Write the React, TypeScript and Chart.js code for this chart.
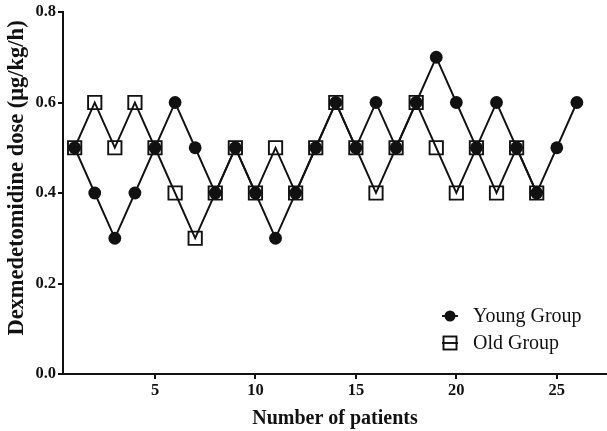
import React, { useEffect, useRef } from "react";
import { Chart, registerables } from "chart.js";

Chart.register(...registerables);

const patients = Array.from({ length: 26 }, (_, i) => i + 1);
const youngValues = [0.5, 0.4, 0.3, 0.4, 0.5, 0.6, 0.5, 0.4, 0.5, 0.4, 0.3, 0.4, 0.5, 0.6, 0.5, 0.6, 0.5, 0.6, 0.7, 0.6, 0.5, 0.6, 0.5, 0.4, 0.5, 0.6];
const oldValues = [0.5, 0.6, 0.5, 0.6, 0.5, 0.4, 0.3, 0.4, 0.5, 0.4, 0.5, 0.4, 0.5, 0.6, 0.5, 0.4, 0.5, 0.6, 0.5, 0.4, 0.5, 0.4, 0.5, 0.4];
const xTicks = [5, 10, 15, 20, 25];
const yTicks = [0, 0.2, 0.4, 0.6, 0.8];
const seriesNames = ["Young Group", "Old Group"];
const xTitle = "Number of patients";
const yTitle = "Dexmedetomidine dose (μg/kg/h)";

const SERIF = "'Liberation Serif', 'Times New Roman', serif";

const legendPlugin = {
  id: "customLegend",
  afterDraw(chart: any) {
    const ctx = chart.ctx;
    const items = [
      { label: seriesNames[0], y: 316, shape: "circle" },
      { label: seriesNames[1], y: 343, shape: "rect" },
    ];
    ctx.save();
    items.forEach((it) => {
      const cx = 450;
      ctx.strokeStyle = "#111";
      ctx.lineWidth = 1.9;
      ctx.beginPath();
      ctx.moveTo(442, it.y);
      ctx.lineTo(458, it.y);
      ctx.stroke();
      if (it.shape === "circle") {
        ctx.fillStyle = "#111";
        ctx.beginPath();
        ctx.arc(cx, it.y, 5.5, 0, Math.PI * 2);
        ctx.fill();
      } else {
        ctx.lineWidth = 1.9;
        ctx.strokeRect(cx - 6.5, it.y - 6.5, 13, 13);
      }
      ctx.fillStyle = "#111";
      ctx.font = `20px ${SERIF}`;
      ctx.textAlign = "left";
      ctx.textBaseline = "middle";
      ctx.fillText(it.label, 473, it.y + 1);
    });
    // y-axis title
    ctx.translate(17, 178);
    ctx.rotate(-Math.PI / 2);
    ctx.font = `bold 22.5px ${SERIF}`;
    ctx.textAlign = "center";
    ctx.textBaseline = "middle";
    ctx.fillText(yTitle, 0, 0);
    ctx.restore();
  },
};

export default function App() {
  const ref = useRef<HTMLCanvasElement>(null);
  useEffect(() => {
    document.body.style.margin = "0";
    const canvas = ref.current!;
    const chart = new Chart(canvas, {
      type: "scatter",
      data: {
        datasets: [
          {
            label: seriesNames[1],
            data: oldValues.map((v, i) => ({ x: patients[i], y: v })),
            showLine: true,
            borderColor: "#111",
            borderWidth: 1.9,
            pointStyle: "rect",
            pointRadius: 9.4,
            pointBorderWidth: 1.9,
            pointBorderColor: "#111",
            pointBackgroundColor: "rgba(0,0,0,0)",
          },
          {
            label: seriesNames[0],
            data: youngValues.map((v, i) => ({ x: patients[i], y: v })),
            showLine: true,
            borderColor: "#111",
            borderWidth: 1.9,
            pointStyle: "circle",
            pointRadius: 6.4,
            pointBorderWidth: 0,
            pointBackgroundColor: "#111",
          },
        ],
      },
      options: {
        responsive: false,
        animation: false,
        devicePixelRatio: 1,
        layout: { autoPadding: false, padding: { top: 12, right: 0, left: 0, bottom: 0 } },
        plugins: { legend: { display: false }, tooltip: { enabled: false } },
        scales: {
          x: {
            type: "linear",
            min: 0.42,
            max: 27.5,
            afterBuildTicks: (s: any) => {
              s.ticks = xTicks.map((v) => ({ value: v }));
            },
            afterFit: (s: any) => {
              s.height = 57;
            },
            border: { color: "#111", width: 2 },
            grid: { drawOnChartArea: false, drawTicks: true, tickLength: 5, color: "#111", lineWidth: 2 },
            ticks: { color: "#111", font: { family: SERIF, size: 16.5, weight: "bold" }, padding: 2, maxRotation: 0 },
            title: {
              display: true,
              text: xTitle,
              color: "#111",
              font: { family: SERIF, size: 20, weight: "bold" },
              padding: { top: 0, bottom: 0 },
            },
          },
          y: {
            min: 0,
            max: 0.8,
            afterBuildTicks: (s: any) => {
              s.ticks = yTicks.map((v) => ({ value: v }));
            },
            afterFit: (s: any) => {
              s.width = 63;
            },
            border: { color: "#111", width: 2 },
            grid: { drawOnChartArea: false, drawTicks: true, tickLength: 5, color: "#111", lineWidth: 2 },
            ticks: {
              color: "#111",
              font: { family: SERIF, size: 16.5, weight: "bold" },
              padding: 2,
              callback: (v: any) => Number(v).toFixed(1),
            },
            title: { display: false },
          },
        },
      },
      plugins: [legendPlugin],
    });
    return () => chart.destroy();
  }, []);
  return (
    <div style={{ position: "fixed", left: 0, top: 0, width: 607, height: 431, background: "#fff" }}>
      <canvas ref={ref} width={607} height={431} />
    </div>
  );
}
